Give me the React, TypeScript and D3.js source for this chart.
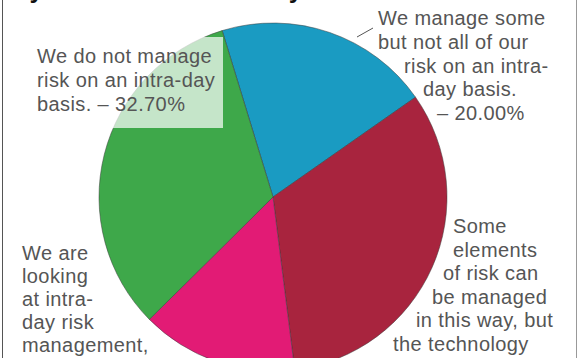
import React from "react";
import * as d3 from "d3";

// ---- data ----
const categories = [
  "We manage some but not all of our risk on an intra-day basis.",
  "Some elements of risk can be managed in this way, but the technology",
  "We are looking at intra-day risk management,",
  "We do not manage risk on an intra-day basis.",
];
const values = [20.0, 32.73, 14.57, 32.7];
const colors = ["#1a9bc2", "#a8243e", "#e21b75", "#3ea84a"];

const blueLabelLines = ["We manage some", "but not all of our", "risk on an intra-", "day basis.", "\u2013 20.00%"];
const redLabelLines = ["Some", "elements", "of risk can", "be managed", "in this way, but", "the technology"];
const pinkLabelLines = ["We are", "looking", "at intra-", "day risk", "management,"];
const greenLabelLines = ["We do not manage", "risk on an intra-day", "basis. \u2013 32.70%"];
const titleText = "by firms on an intra-day basis";

// ---- layout ----
const W = 580;
const H = 358;
const CX = 273;
const CY = 197;
const R = 174;
const START_DEG = -17;
const FONT = "'Liberation Sans', Arial, Helvetica, sans-serif";
const TEXT_COLOR = "#555555";
const FS = 20;
const LS = 0.4;

const blueLayout = { xs: [378, 378, 404, 423, 437], y0: 25, lh: 23.8 };
const redLayout = { xs: [453, 453, 443, 432, 416, 393], y0: 233, lh: 23.6 };
const pinkLayout = { x: 22, y0: 260, lh: 23 };
const greenLayout = { x: 37, y0: 63, lh: 24 };

export default function App() {
  const start = (START_DEG * Math.PI) / 180;
  const pie = d3
    .pie<number>()
    .sort(null)
    .value((d) => d)
    .startAngle(start)
    .endAngle(start + 2 * Math.PI);
  const arcs = pie(values);
  const arcGen = d3.arc<d3.PieArcDatum<number>>().innerRadius(0).outerRadius(R);

  return (
    <div style={{ position: "fixed", left: 0, top: 0, width: W, height: H, background: "#fff" }}>
      <svg width={W} height={H} style={{ display: "block" }} fontFamily={FONT}>
        <rect x={0} y={0} width={W} height={H} fill="#fff" />
        <text x={14} y={-2} fontSize={25.5} fontWeight="bold" fill="#111">
          {titleText}
        </text>
        <g transform={`translate(${CX},${CY})`}>
          {arcs.map((a, i) => (
            <path
              key={categories[i]}
              d={arcGen(a) || ""}
              fill={colors[i]}
              stroke="#3a3a3a"
              strokeWidth={0.5}
            />
          ))}
        </g>
        {/* green label background */}
        <rect x={30} y={37} width={193} height={91} fill="#ffffff" fillOpacity={0.7} />
        <g fontSize={FS} fill={TEXT_COLOR} letterSpacing={LS}>
          {greenLabelLines.map((t, i) => (
            <text key={"g" + i} x={greenLayout.x} y={greenLayout.y0 + i * greenLayout.lh}>
              {t}
            </text>
          ))}
          {blueLabelLines.map((t, i) => (
            <text key={"b" + i} x={blueLayout.xs[i]} y={blueLayout.y0 + i * blueLayout.lh}>
              {t}
            </text>
          ))}
          {redLabelLines.map((t, i) => (
            <text key={"r" + i} x={redLayout.xs[i]} y={redLayout.y0 + i * redLayout.lh}>
              {t}
            </text>
          ))}
          {pinkLabelLines.map((t, i) => (
            <text key={"p" + i} x={pinkLayout.x} y={pinkLayout.y0 + i * pinkLayout.lh}>
              {t}
            </text>
          ))}
        </g>
        <line x1={357} y1={37} x2={373} y2={28} stroke="#555" strokeWidth={1} />
        <line x1={2.5} y1={0} x2={2.5} y2={H} stroke="#555" strokeWidth={1} />
        <line x1={576.5} y1={0} x2={576.5} y2={H} stroke="#999" strokeWidth={1} />
      </svg>
    </div>
  );
}
